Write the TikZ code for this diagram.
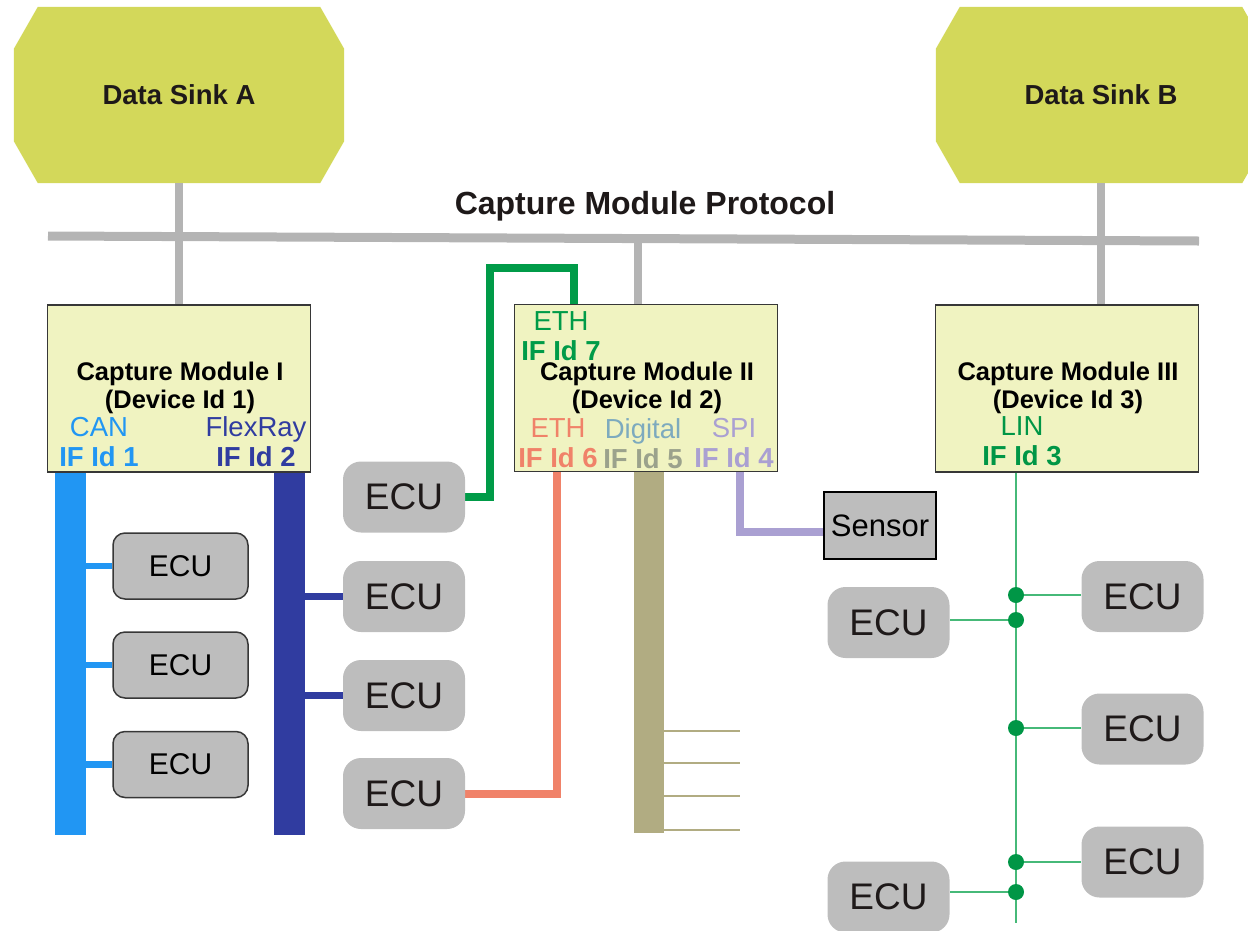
\documentclass[tikz,border=0pt]{standalone}
\usepackage{fontspec}
\setmainfont{Liberation Sans}
\usetikzlibrary{backgrounds}
\definecolor{sinkgreen}{RGB}{211,216,90}
\definecolor{modfill}{RGB}{240,243,193}
\definecolor{modline}{RGB}{55,55,55}
\definecolor{busgrey}{RGB}{180,180,180}
\definecolor{ecugrey}{RGB}{189,189,189}
\definecolor{ecutext}{RGB}{30,25,25}
\definecolor{canblue}{RGB}{33,150,243}
\definecolor{flexblue}{RGB}{48,60,160}
\definecolor{ethgreen}{RGB}{0,155,72}
\definecolor{ethred}{RGB}{240,130,105}
\definecolor{digolive}{RGB}{177,172,130}
\definecolor{digtext}{RGB}{125,170,190}
\definecolor{digid}{RGB}{155,162,140}
\definecolor{spipurple}{RGB}{170,160,210}
\definecolor{linline}{RGB}{70,185,120}
\definecolor{lindot}{RGB}{0,150,70}
\tikzset{
  sinktext/.style={minimum width=330pt, minimum height=176pt, inner sep=0pt, font=\bfseries\fontsize{27.5}{30}\selectfont, text=ecutext},
  module/.style={draw=modline, line width=1.5pt, fill=modfill, minimum width=263pt, minimum height=167pt, inner sep=0pt},
  title/.style={align=center, inner sep=0pt, font=\bfseries\fontsize{25.5}{28}\selectfont},
  iflabel/.style={align=center, inner sep=0pt, font=\fontsize{27.5}{30}\selectfont},
  ecu/.style={fill=ecugrey, rounded corners=18pt, minimum width=122pt, minimum height=71pt, inner sep=0pt, font=\fontsize{37}{40}\selectfont, text=ecutext},
  ecusmall/.style={ecu, draw=modline, line width=1.5pt, rounded corners=12pt, minimum width=135pt, minimum height=66pt, font=\fontsize{30}{34}\selectfont, text=black},
  sensorbox/.style={draw=black, line width=1.5pt, fill=ecugrey, minimum width=112pt, minimum height=67pt, inner sep=0pt, font=\fontsize{31}{34}\selectfont},
  cmp/.style={draw=busgrey, line width=8pt},
  fatbus/.style={line width=31pt},
  ifline/.style={line width=8pt},
  stub/.style={line width=6.5pt},
  lin/.style={draw=linline, line width=2pt}
}
\begin{document}
\begin{tikzpicture}[x=1pt,y=-1pt]
\useasboundingbox (0,0) rectangle (1248,930);

% data sinks
\node[sinktext] (sinkA) at (179,95) {Data Sink A};
\node[sinktext] (sinkB) at (1101,95) {Data Sink B};
\node[font=\bfseries\fontsize{32}{34}\selectfont, text=ecutext, anchor=base, inner sep=0pt] (proto) at (645,214) {Capture Module Protocol};

% capture modules
\node[module] (cmI) at (179,388.5) {};
\node[module] (cmII) at (646,388) {};
\node[module] (cmIII) at (1067,388.5) {};
\node[title] (tI) at (180,388) {Capture Module I\\(Device Id 1)};
\node[title] (tII) at (647,388) {Capture Module II\\(Device Id 2)};
\node[title] (tIII) at (1068,388) {Capture Module III\\(Device Id 3)};

% interfaces
\node[iflabel, text=canblue] (if1) at (99,442) {CAN\\\textbf{IF Id 1}};
\node[iflabel, text=flexblue] (if2) at (256,442) {FlexRay\\\textbf{IF Id 2}};
\node[iflabel, text=lindot] (if3) at (1022,441) {LIN\\\textbf{IF Id 3}};
\node[iflabel] (if4) at (734,443.5) {\textcolor{spipurple}{SPI}\\\textcolor{spipurple}{\bfseries IF Id 4}};
\node[iflabel] (if5) at (643,443.5) {\textcolor{digtext}{Digital}\\\textcolor{digid}{\bfseries IF Id 5}};
\node[iflabel, text=ethred] (if6) at (558,443.5) {ETH\\\textbf{IF Id 6}};
\node[iflabel, text=ethgreen] (if7) at (561,336.5) {ETH\\\textbf{IF Id 7}};

% devices
\node[ecusmall] (ecuA1) at (180.5,566) {ECU};
\node[ecusmall] (ecuA2) at (180.5,665) {ECU};
\node[ecusmall] (ecuA3) at (180.5,764.5) {ECU};
\node[ecu] (ecuM1) at (404,497) {ECU};
\node[ecu] (ecuM2) at (404,596.5) {ECU};
\node[ecu] (ecuM3) at (404,695.5) {ECU};
\node[ecu] (ecuM4) at (404,793.5) {ECU};
\node[sensorbox] (sensor) at (880,525.5) {Sensor};
\node[ecu] (ecuL1) at (888.5,622.5) {ECU};
\node[ecu] (ecuL2) at (888.5,897) {ECU};
\node[ecu] (ecuR1) at (1142.5,596.5) {ECU};
\node[ecu] (ecuR2) at (1142.5,729) {ECU};
\node[ecu] (ecuR3) at (1142.5,862) {ECU};

\coordinate (busL) at (48,236);
\coordinate (busR) at (1199,241);
\coordinate (tapII) at (638,240);
\coordinate (can1) at (70.5,472);
\coordinate (can2) at (70.5,835);
\coordinate (flx1) at (289.5,472);
\coordinate (flx2) at (289.5,835);
\coordinate (dig1) at (649,472);
\coordinate (dig2) at (649,833);
\coordinate (lin1) at (1016,472);
\coordinate (lin2) at (1016,923);
\coordinate (ethK) at (490,268);
\coordinate (eth7) at (574,305);
\coordinate (eth6) at (557,472);
\coordinate (spi4) at (740,472);

\begin{scope}[on background layer]
  \foreach \s in {sinkA,sinkB}
    \fill[sinkgreen] ([xshift=24pt]\s.north west) -- ([xshift=-24pt]\s.north east)
      -- ([yshift=-42pt]\s.north east) -- ([yshift=42pt]\s.south east)
      -- ([xshift=-24pt]\s.south east) -- ([xshift=24pt]\s.south west)
      -- ([yshift=42pt]\s.south west) -- ([yshift=-42pt]\s.north west) -- cycle;
  % protocol bus
  \draw[draw=busgrey, line width=9pt] (busL) -- (busR);
  \draw[cmp] (sinkA.south) -- (cmI.north);
  \draw[cmp] (sinkB.south) -- (sinkB.south |- cmIII.north);
  \draw[cmp] (tapII) -- (tapII |- cmII.north);
  % CAN and FlexRay
  \draw[fatbus, canblue] (can1) -- (can2);
  \draw[fatbus, flexblue] (flx1) -- (flx2);
  \foreach \e in {ecuA1,ecuA2,ecuA3}
    \draw[stub, canblue] (\e.west -| can1) -- (\e.west);
  \foreach \e in {ecuM2,ecuM3}
    \draw[stub, flexblue] (\e.west -| flx1) -- (\e.west);
  % ETH
  \draw[ifline, ethgreen] (ecuM1.east) -| (ethK) -| (eth7);
  \draw[ifline, ethred] (eth6) |- (ecuM4.east);
  % Digital
  \draw[line width=30pt, digolive] (dig1) -- (dig2);
  \foreach \y in {731,763,796,830}
    \draw[line width=1.5pt, digolive] (664,\y) -- (740,\y);
  % SPI
  \draw[ifline, spipurple] (spi4) |- ([yshift=-6pt]sensor.west);
  % LIN
  \draw[lin] (lin1) -- (lin2);
  \foreach \e/\dy in {ecuR1/-1.5,ecuR2/-1,ecuR3/0} {
    \draw[lin] ([yshift=-\dy pt]\e.west -| lin1) -- ([yshift=-\dy pt]\e.west);
    \fill[lindot] ([yshift=-\dy pt]\e.west -| lin1) circle (8);
  }
  \foreach \e/\dy in {ecuL1/-2.5,ecuL2/-5} {
    \draw[lin] ([yshift=-\dy pt]\e.east -| lin1) -- ([yshift=-\dy pt]\e.east);
    \fill[lindot] ([yshift=-\dy pt]\e.east -| lin1) circle (8);
  }
\end{scope}
\end{tikzpicture}
\end{document}
